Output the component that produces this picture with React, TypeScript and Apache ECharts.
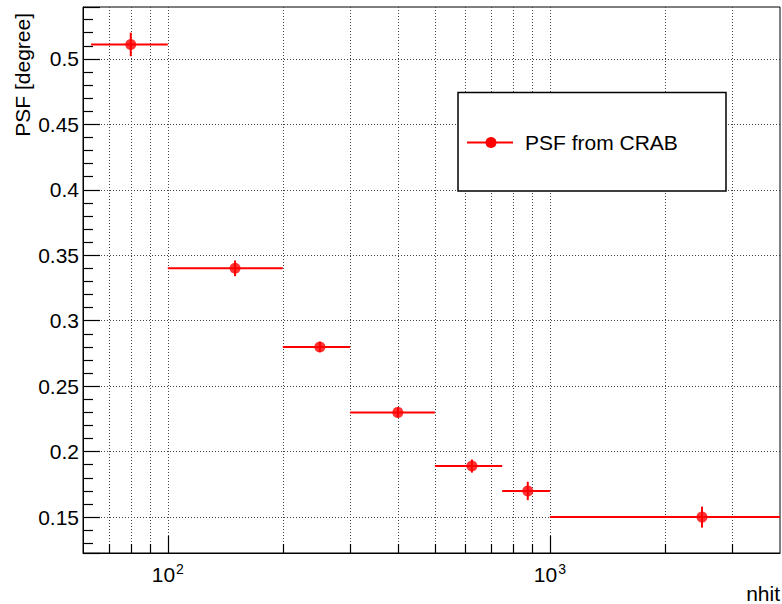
import React, { useEffect, useRef } from 'react';
import * as echarts from 'echarts';

// ---- data ----
const nhit = [80, 150, 250, 400, 625, 875, 2500];
const binLow = [63, 100, 200, 300, 500, 750, 1000];
const binHigh = [100, 200, 300, 500, 750, 1000, 4000];
const psf = [0.511, 0.34, 0.28, 0.23, 0.189, 0.17, 0.15];
const psfErr = [0.009, 0.006, 0.004, 0.004, 0.005, 0.007, 0.008];

// x grid lines / ticks of the log axis (ROOT style 2..9 per decade)
const xGridValues = [70, 80, 90, 100, 200, 300, 400, 500, 600, 700, 800, 900, 1000, 2000, 3000];

const X_MIN = 60;
const X_MAX = 4000;
const Y_MIN = 0.1226;
const Y_MAX = 0.5396;

const seriesName = 'PSF from CRAB';
const xTitle = 'nhit';
const yTitle = 'PSF [degree]';

const FONT = '"Liberation Sans", Arial, Helvetica, sans-serif';
const RED = '#ff0000';

function isPow10(v: number) {
  const l = Math.log10(v);
  return Math.abs(l - Math.round(l)) < 1e-6;
}

export default function App() {
  const ref = useRef<HTMLDivElement>(null);

  useEffect(() => {
    document.body.style.margin = '0';
    const chart = echarts.init(ref.current!, null, { renderer: 'svg' });

    chart.setOption({
      animation: false,
      backgroundColor: '#ffffff',
      textStyle: { fontFamily: FONT },
      grid: {
        left: 83,
        top: 7,
        right: 2,
        bottom: 51,
        show: true,
        borderColor: '#000',
        borderWidth: 1,
        containLabel: false,
        outerBoundsMode: 'none',
      },
      xAxis: {
        type: 'log',
        logBase: 10,
        min: X_MIN,
        max: X_MAX,
        axisLine: { show: true, lineStyle: { color: '#000', width: 1 } },
        axisTick: { show: false },
        splitLine: { show: false },
        axisLabel: {
          margin: 9,
          color: '#000',
          fontFamily: FONT,
          fontSize: 21,
          formatter: (v: number) => {
            if (!isPow10(v)) return '';
            const e = Math.round(Math.log10(v));
            return '{n|10}{s|' + e + '}';
          },
          rich: {
            n: { fontSize: 21, fontFamily: FONT, color: '#000', lineHeight: 24 },
            s: { fontSize: 14, fontFamily: FONT, color: '#000', verticalAlign: 'top', padding: [0, 0, 0, 1] },
          },
        },
      },
      yAxis: {
        type: 'value',
        min: Y_MIN,
        max: Y_MAX,
        splitNumber: 8,
        axisLine: { show: true, lineStyle: { color: '#000', width: 1 } },
        axisTick: { show: true, inside: true, length: 17, lineStyle: { color: '#000', width: 1.2 } },
        minorTick: { show: true, splitNumber: 5, length: 10, lineStyle: { color: '#000', width: 1.2 } },
        splitLine: {
          show: true,
          showMinLine: false,
          showMaxLine: false,
          lineStyle: { type: [1, 2], color: '#444', width: 1 },
        },
        axisLabel: {
          margin: 4,
          color: '#000',
          fontFamily: FONT,
          fontSize: 21,
          showMinLabel: false,
          showMaxLabel: false,
          formatter: (v: number) => {
            const k = Math.round(v / 0.05);
            if (Math.abs(v - k * 0.05) > 1e-6) return '';
            return String(parseFloat((k * 0.05).toFixed(2)));
          },
        },
      },
      series: [
        {
          type: 'custom',
          name: 'xgrid',
          silent: true,
          z: 1,
          encode: { x: 0, y: 1 },
          data: xGridValues.map((v) => [v, Y_MIN]),
          renderItem: (params: any, api: any) => {
            const cs = params.coordSys;
            const v = api.value(0);
            const p = api.coord([v, api.value(1)]);
            const x = Math.round(p[0]) + 0.5;
            const top = cs.y;
            const bottom = cs.y + cs.height;
            const len = isPow10(v) ? 17 : 9;
            return {
              type: 'group',
              children: [
                {
                  type: 'line',
                  shape: { x1: x, y1: top, x2: x, y2: bottom },
                  style: { stroke: '#444', lineWidth: 1, lineDash: [1, 2] },
                },
                {
                  type: 'line',
                  shape: { x1: x, y1: bottom, x2: x, y2: bottom - len },
                  style: { stroke: '#000', lineWidth: 1.2 },
                },
              ],
            };
          },
        },
        {
          type: 'custom',
          name: seriesName + ' errors',
          silent: true,
          z: 3,
          encode: { x: 0, y: 1 },
          data: nhit.map((x, i) => [x, psf[i], binLow[i], binHigh[i], psfErr[i]]),
          renderItem: (params: any, api: any) => {
            const y = api.value(1);
            const xc = api.value(0);
            const l = api.coord([api.value(2), y]);
            const r = api.coord([api.value(3), y]);
            const t = api.coord([xc, y + api.value(4)]);
            const b = api.coord([xc, y - api.value(4)]);
            return {
              type: 'group',
              children: [
                {
                  type: 'line',
                  shape: { x1: l[0], y1: l[1], x2: r[0], y2: r[1] },
                  style: { stroke: RED, lineWidth: 2 },
                },
                {
                  type: 'line',
                  shape: { x1: t[0], y1: t[1], x2: b[0], y2: b[1] },
                  style: { stroke: RED, lineWidth: 2 },
                },
              ],
            };
          },
        },
        {
          type: 'scatter',
          name: seriesName,
          z: 4,
          symbol: 'circle',
          symbolSize: 11,
          itemStyle: { color: RED },
          data: nhit.map((x, i) => [x, psf[i]]),
        },
      ],
      graphic: [
        {
          type: 'text',
          z: 10,
          x: 22,
          y: 13,
          rotation: Math.PI / 2,
          style: {
            text: yTitle,
            fill: '#000',
            fontSize: 21,
            fontFamily: FONT,
            align: 'right',
            verticalAlign: 'middle',
          },
        },
        {
          type: 'text',
          z: 10,
          x: 780,
          y: 593,
          style: {
            text: xTitle,
            fill: '#000',
            fontSize: 21,
            fontFamily: FONT,
            align: 'right',
            verticalAlign: 'middle',
          },
        },
        {
          type: 'group',
          z: 10,
          children: [
            {
              type: 'rect',
              z: 10,
              shape: { x: 458, y: 92.5, width: 268, height: 98.5 },
              style: { fill: '#fff', stroke: '#000', lineWidth: 1.5 },
            },
            {
              type: 'line',
              z: 11,
              shape: { x1: 467, y1: 142.5, x2: 513, y2: 142.5 },
              style: { stroke: RED, lineWidth: 2 },
            },
            {
              type: 'circle',
              z: 12,
              shape: { cx: 491, cy: 142.5, r: 5.5 },
              style: { fill: RED },
            },
            {
              type: 'text',
              z: 12,
              x: 525,
              y: 142.5,
              style: {
                text: seriesName,
                fill: '#000',
                fontSize: 21,
                fontFamily: FONT,
                align: 'left',
                verticalAlign: 'middle',
              },
            },
          ],
        },
      ],
    });

    return () => {
      chart.dispose();
    };
  }, []);

  return (
    <div
      ref={ref}
      style={{ position: 'absolute', left: 0, top: 0, width: 782, height: 604, background: '#fff' }}
    />
  );
}
